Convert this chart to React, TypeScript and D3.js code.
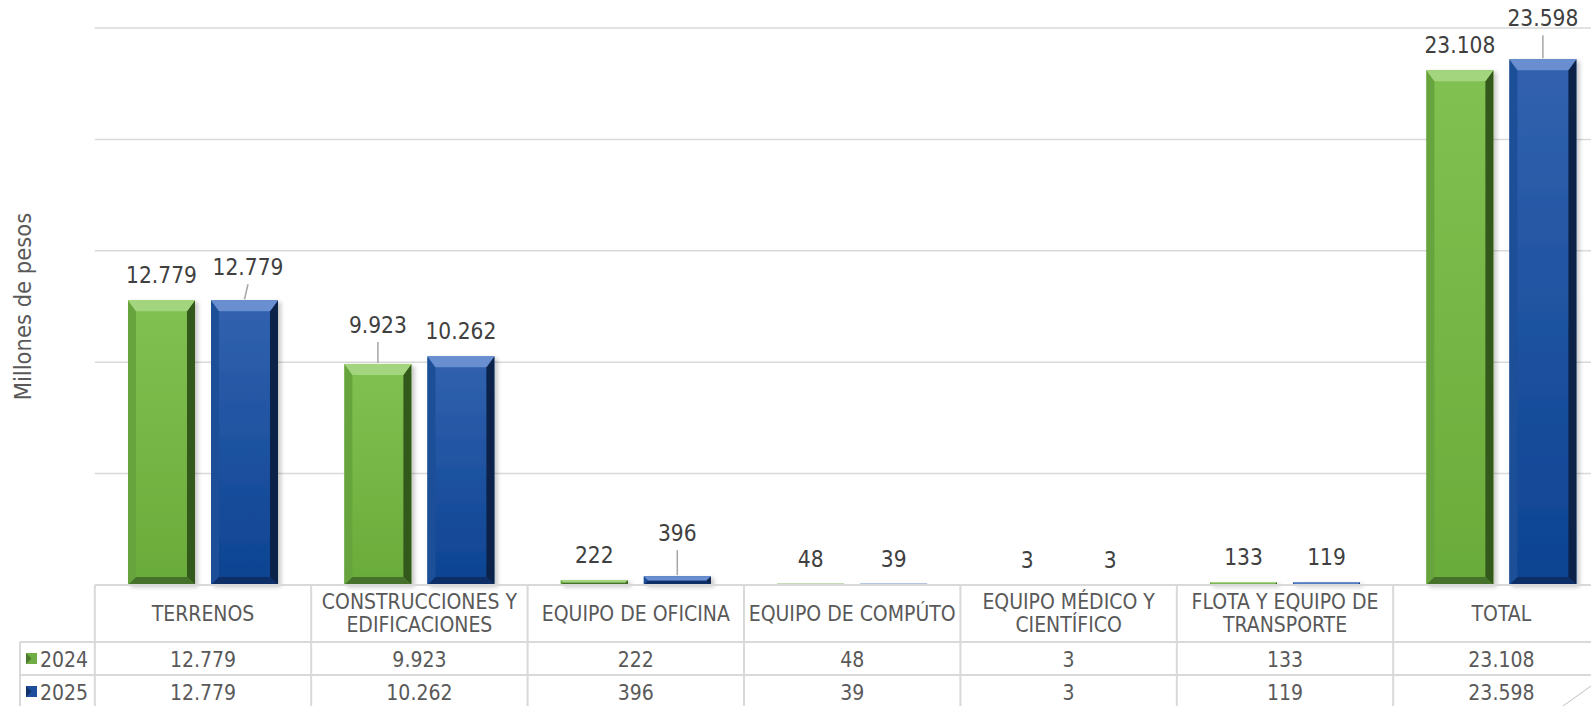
import * as d3 from "d3";
import React, { useEffect, useRef } from "react";

const categories = [
  "TERRENOS",
  "CONSTRUCCIONES Y\nEDIFICACIONES",
  "EQUIPO DE OFICINA",
  "EQUIPO DE COMPÚTO",
  "EQUIPO MÉDICO Y\nCIENTÍFICO",
  "FLOTA Y EQUIPO DE\nTRANSPORTE",
  "TOTAL",
];
const seriesNames = ["2024", "2025"];
const values2024 = [12779, 9923, 222, 48, 3, 133, 23108];
const values2025 = [12779, 10262, 396, 39, 3, 119, 23598];
const yTicks = [0, 5000, 10000, 15000, 20000, 25000];

// labels that were dragged up by hand in the original, with leader lines
const movedLabels = [
  { cat: 0, series: "2025", lift: 25, dx: 3.5 },
  { cat: 1, series: "2024", lift: 31, dx: 0 },
  { cat: 2, series: "2025", lift: 35, dx: 0 },
  { cat: 6, series: "2025", lift: 33, dx: 0 },
];

const palette: Record<string, any> = {
  "2024": {
    top: "#a3d47e",
    bodyTop: "#80c152",
    bodyBottom: "#6aab3a",
    left: "#68a43c",
    right: "#33581c",
    bottom: "#44712a",
    key: "#70ad47",
    faint: "#c5dcb4",
  },
  "2025": {
    top: "#6a8fd0",
    bodyTop: "#3262af",
    bodyBottom: "#0c4392",
    left: "#1d4f98",
    right: "#0a2248",
    bottom: "#0d2f66",
    key: "#1f4e9c",
    faint: "#b4c4e0",
  },
};

const W = 1591;
const H = 706;
const FONT = "'DejaVu Sans Condensed', 'DejaVu Sans', sans-serif";

const fmt = d3
  .formatLocale({ decimal: ",", thousands: ".", grouping: [3], currency: ["$", ""] })
  .format(",d");

const App: React.FC = () => {
  const svgRef = useRef<SVGSVGElement>(null);

  useEffect(() => {
    const svg = d3.select(svgRef.current);
    svg.selectAll("*").remove();

    const left = 94.8;
    const bandW = 216.4;
    const baseY = 585;
    const topY = 28;
    const row1 = 642;
    const row2 = 675;

    const x0 = d3
      .scaleBand<string>()
      .domain(categories)
      .range([left, left + bandW * categories.length]);
    const x1 = d3
      .scaleBand<string>()
      .domain(seriesNames)
      .range([0, x0.bandwidth()])
      .paddingInner(0.193)
      .paddingOuter(0.4);
    const y = d3.scaleLinear().domain([0, 25000]).range([baseY, topY]);

    const defs = svg.append("defs");
    seriesNames.forEach((s) => {
      const g = defs
        .append("linearGradient")
        .attr("id", `body-${s}`)
        .attr("x1", 0)
        .attr("y1", 0)
        .attr("x2", 0)
        .attr("y2", 1);
      g.append("stop").attr("offset", "0%").attr("stop-color", palette[s].bodyTop);
      g.append("stop").attr("offset", "100%").attr("stop-color", palette[s].bodyBottom);
    });
    const f = defs
      .append("filter")
      .attr("id", "shadow")
      .attr("x", "-10%")
      .attr("y", "-10%")
      .attr("width", "130%")
      .attr("height", "130%");
    f.append("feDropShadow")
      .attr("dx", 3)
      .attr("dy", 2)
      .attr("stdDeviation", 2)
      .attr("flood-color", "#000")
      .attr("flood-opacity", 0.22);

    svg.append("rect").attr("width", W).attr("height", H).attr("fill", "#fff");

    // gridlines
    svg
      .append("g")
      .selectAll("line")
      .data(yTicks)
      .join("line")
      .attr("x1", left)
      .attr("x2", W)
      .attr("y1", (d) => y(d))
      .attr("y2", (d) => y(d))
      .attr("stroke", "#d9d9d9")
      .attr("stroke-width", 1.5);

    // y title
    svg
      .append("text")
      .attr("transform", `translate(31,${(topY + baseY) / 2}) rotate(-90)`)
      .attr("text-anchor", "middle")
      .attr("font-family", FONT)
      .attr("font-size", 23.5)
      .attr("fill", "#595959")
      .text("Millones de pesos");

    const points = categories.flatMap((c, i) =>
      seriesNames.map((s) => ({
        cat: i,
        name: c,
        series: s,
        value: s === "2024" ? values2024[i] : values2025[i],
      }))
    );

    const bars = svg.append("g").attr("filter", "url(#shadow)");
    points.forEach((p) => {
      const bx = (x0(p.name) ?? 0) + (x1(p.series) ?? 0);
      const bw = x1.bandwidth();
      const by = y(p.value);
      const bh = baseY - by;
      const c = palette[p.series];
      if (bh < 2) {
        // hairline bars, drawn faintly as in the original
        if (p.value >= 10)
          svg
            .append("rect")
            .attr("x", bx)
            .attr("y", baseY - 2)
            .attr("width", bw)
            .attr("height", 2)
            .attr("fill", c.faint);
        return;
      }
      const b = Math.min(8, bh / 2);
      const t = Math.min(11, bh / 2);
      const g = bars.append("g");
      g.append("rect")
        .attr("x", bx)
        .attr("y", by)
        .attr("width", bw)
        .attr("height", bh)
        .attr("fill", `url(#body-${p.series})`);
      const poly = (pts: number[][], fill: string) =>
        g.append("path").attr("d", "M" + pts.map((q) => q.join(",")).join("L") + "Z").attr("fill", fill);
      poly([[bx, by], [bx + b, by + t], [bx + b, by + bh - b], [bx, by + bh]], c.left);
      poly([[bx + bw, by], [bx + bw, by + bh], [bx + bw - b, by + bh - b], [bx + bw - b, by + t]], c.right);
      poly([[bx, by + bh], [bx + b, by + bh - b], [bx + bw - b, by + bh - b], [bx + bw, by + bh]], c.bottom);
      poly([[bx, by], [bx + bw, by], [bx + bw - b, by + t], [bx + b, by + t]], c.top);
    });

    // data labels
    const labels = svg.append("g").attr("font-family", FONT).attr("font-size", 22.5).attr("fill", "#404040");
    points.forEach((p) => {
      const cx = (x0(p.name) ?? 0) + (x1(p.series) ?? 0) + x1.bandwidth() / 2;
      const by = y(p.value);
      const moved = movedLabels.find((m) => m.cat === p.cat && m.series === p.series);
      const lift = moved ? moved.lift : 17;
      const dx = moved ? moved.dx : 0;
      labels
        .append("text")
        .attr("x", cx + dx)
        .attr("y", by - lift)
        .attr("text-anchor", "middle")
        .text(fmt(p.value));
      if (moved) {
        svg
          .append("line")
          .attr("x1", cx + dx)
          .attr("y1", by - lift + 9)
          .attr("x2", cx)
          .attr("y2", by - 1)
          .attr("stroke", "#a6a6a6")
          .attr("stroke-width", 1.5);
      }
    });

    // data table
    const table = svg.append("g").attr("stroke", "#d9d9d9").attr("stroke-width", 2);
    table
      .selectAll("line.v")
      .data(d3.range(categories.length + 1))
      .join("line")
      .attr("x1", (i) => left + i * bandW)
      .attr("x2", (i) => left + i * bandW)
      .attr("y1", baseY)
      .attr("y2", H + 2);
    table.append("line").attr("x1", 20).attr("x2", 20).attr("y1", row1).attr("y2", H + 2);
    [row1, row2].forEach((ry) =>
      table.append("line").attr("x1", 20).attr("x2", W).attr("y1", ry).attr("y2", ry)
    );
    table.append("line").attr("x1", left).attr("x2", W).attr("y1", baseY).attr("y2", baseY);

    const txt = svg.append("g").attr("font-family", FONT).attr("font-size", 21).attr("fill", "#595959");
    categories.forEach((c, i) => {
      const cx = (x0(c) ?? 0) + bandW / 2;
      const lines = c.split("\n");
      const lh = 23;
      lines.forEach((ln, k) => {
        txt
          .append("text")
          .attr("x", cx)
          .attr("y", 620.5 - ((lines.length - 1) * lh) / 2 + k * lh)
          .attr("text-anchor", "middle")
          .text(ln);
      });
      [values2024[i], values2025[i]].forEach((v, k) => {
        txt
          .append("text")
          .attr("x", cx)
          .attr("y", k === 0 ? 666.5 : 699.5)
          .attr("text-anchor", "middle")
          .text(fmt(v));
      });
    });

    seriesNames.forEach((s, k) => {
      const ry = k === 0 ? row1 : row2;
      const ky = ry + 11;
      svg.append("rect").attr("x", 26).attr("y", ky).attr("width", 11).attr("height", 11).attr("fill", palette[s].key);
      svg
        .append("path")
        .attr("d", `M26,${ky}L31.5,${ky + 5.5}L26,${ky + 11}Z`)
        .attr("fill", palette[s].right)
        .attr("opacity", 0.6);
      txt.append("text").attr("x", 40).attr("y", ry + 24.5).text(s);
    });

    // corner mark seen at the bottom right of the original
    svg
      .append("line")
      .attr("x1", 1563)
      .attr("y1", H)
      .attr("x2", W)
      .attr("y2", H - 20)
      .attr("stroke", "#bfbfbf")
      .attr("stroke-width", 1);
  }, []);

  return (
    <svg
      ref={svgRef}
      width={W}
      height={H}
      style={{ position: "absolute", left: 0, top: 0, overflow: "hidden" }}
    />
  );
};

export default App;
